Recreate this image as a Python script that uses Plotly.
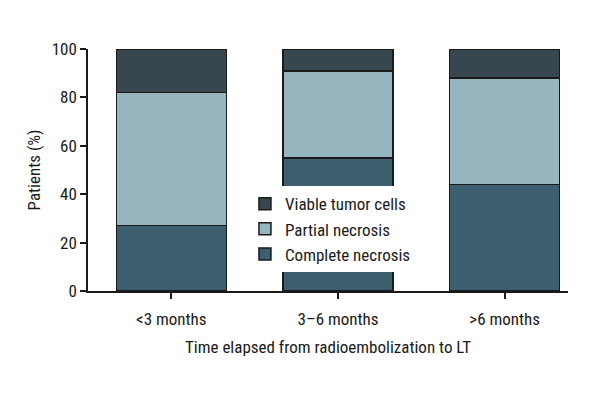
import plotly.graph_objects as go

categories = ["<3 months", "3–6 months", ">6 months"]
complete_necrosis = [27, 55, 44]
partial_necrosis = [55, 36, 44]
viable_tumor = [18, 9, 12]

FONT = "Roboto Condensed, DejaVu Sans Condensed, sans-serif"
x_idx = [0, 1, 2]

fig = go.Figure()
series = [
    ("Complete necrosis", complete_necrosis, "#3b5f6e"),
    ("Partial necrosis", partial_necrosis, "#97b5bf"),
    ("Viable tumor cells", viable_tumor, "#38474f"),
]
for name, vals, col in series:
    fig.add_trace(go.Bar(
        x=x_idx, y=vals, name=name, width=0.66,
        marker=dict(color=col, line=dict(color="#1a1a1a", width=1.5)),
    ))

fig.update_layout(
    barmode="stack",
    width=600, height=400,
    margin=dict(l=80, r=40, t=41, b=117),
    plot_bgcolor="white", paper_bgcolor="white",
    font=dict(family=FONT, size=17, color="#1a1a1a"),
    legend=dict(
        x=0.327, y=0.433, xanchor="left", yanchor="top",
        bgcolor="white", traceorder="reversed",
        font=dict(family=FONT, size=17, color="#1a1a1a"),
        tracegroupgap=0,
    ),
    xaxis=dict(
        tickmode="array", tickvals=x_idx, ticktext=categories,
        range=[-0.5, 2.38],
        showline=True, linecolor="#1a1a1a", linewidth=1.5,
        ticks="outside", ticklen=6, tickcolor="#1a1a1a", tickwidth=1.5,
        ticklabelstandoff=6,
        showgrid=False, zeroline=False,
        tickfont=dict(family=FONT, size=17),
        title=dict(text="Time elapsed from radioembolization to LT", standoff=13,
                   font=dict(family=FONT, size=17)),
    ),
    yaxis=dict(
        range=[0, 100], tickvals=[0, 20, 40, 60, 80, 100],
        showline=True, linecolor="#1a1a1a", linewidth=1.5,
        ticks="outside", ticklen=6, tickcolor="#1a1a1a", tickwidth=1.5,
        showgrid=False, zeroline=False,
        tickfont=dict(family=FONT, size=17),
        title=dict(text="Patients (%)", standoff=7, font=dict(family=FONT, size=17)),
    ),
)

fig.write_html("out.html")
